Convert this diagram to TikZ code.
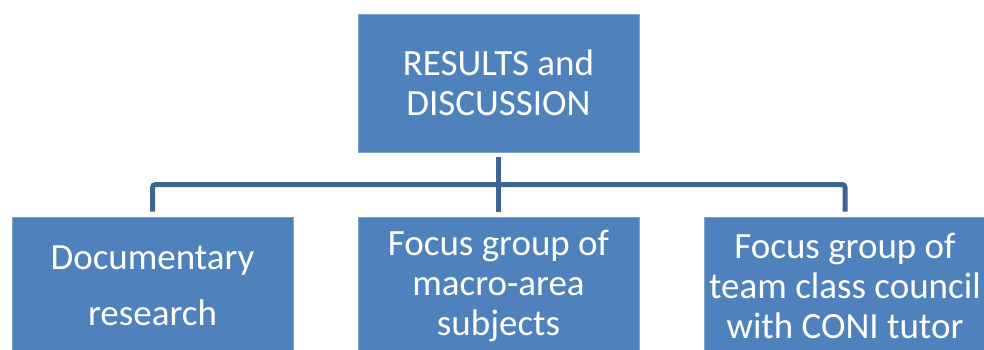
\documentclass[tikz,border=0pt]{standalone}
\usepackage{fontspec}
\setmainfont{Carlito}
\definecolor{boxblue}{HTML}{4F81BD}
\definecolor{boxedge}{HTML}{7FA3CE}
\definecolor{linkblue}{HTML}{3E6496}
\tikzset{
  stage/.style={rectangle, fill=boxblue, draw=boxedge, line width=0.8pt,
    text=white, minimum width=281pt, minimum height=138pt, align=center,
    inner sep=0pt, font=\fontsize{37}{40}\selectfont},
  link/.style={draw=linkblue, line width=5pt, rounded corners=3pt}
}
\begin{document}
\begin{tikzpicture}[x=1pt,y=1pt]
	\useasboundingbox (0,0) rectangle (984,-350);

	% top box and the three below it
	\node[stage] (res) at (498.5,-83) {RESULTS and\\DISCUSSION};
	\node[stage] (doc) at (152.5,-286) {Documentary\\[16pt]research};
	\node[stage] (macro) at (498.5,-286) {Focus group of\\macro-area\\subjects};
	\node[stage] (team) at (845,-286) {Focus group of\\team class council\\with CONI tutor};

	% connectors
	\coordinate (bus) at (498.5,-184.5);
	\draw[link] ([yshift=-5pt]res.south) -- ([yshift=5pt]macro.north);
	\draw[link] ([yshift=5pt]doc.north) |- (bus) -| ([yshift=5pt]team.north);
\end{tikzpicture}
\end{document}
